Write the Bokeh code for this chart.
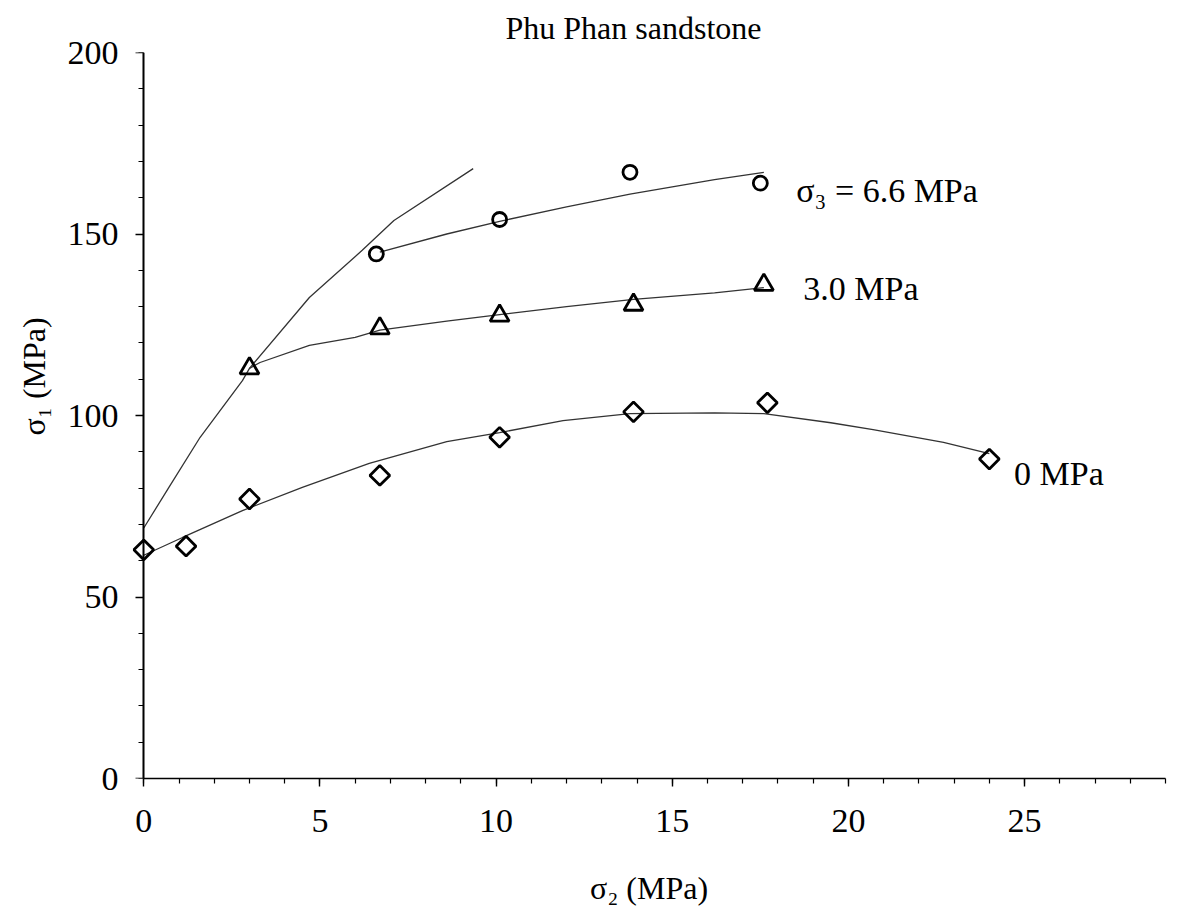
import math
from bokeh.plotting import figure
from bokeh.models import Range1d, FixedTicker, Label, Title, LinearAxis
from bokeh.embed import file_html
from bokeh.resources import INLINE

title_text = "Phu Phan sandstone"
x_label = "σ₂ (MPa)"
y_label = "σ₁ (MPa)"
label_66 = "σ₃ = 6.6 MPa"
label_30 = "3.0 MPa"
label_00 = "0 MPa"

x_major = [0, 5, 10, 15, 20, 25]
x_minor = list(range(0, 30))
y_major = [0, 50, 100, 150, 200]
y_minor = list(range(0, 201, 10))

# test points
s3_00_x = [0.0, 1.2, 3.0, 6.7, 10.1, 13.9, 17.7, 24.0]
s3_00_y = [63, 64, 77, 83.5, 94, 101, 103.5, 88]
s3_30_x = [3.0, 6.7, 10.1, 13.9, 17.6]
s3_30_y = [113, 124, 127.5, 130.5, 136]
s3_66_x = [6.6, 10.1, 13.8, 17.5]
s3_66_y = [144.5, 154, 167, 164]

# fitted curves
fit_00_x = [0.0, 1.1, 2.8, 4.5, 6.4, 8.6, 10.1, 11.9, 13.8, 16.2, 17.6, 19.5, 20.7, 22.7, 24.0]
fit_00_y = [61.5, 66.4, 73.8, 80.2, 86.8, 92.8, 95.3, 98.6, 100.5, 100.7, 100.5, 98.0, 96.1, 92.6, 89.5]
fit_30_x = [3.0, 3.3, 4.7, 6.0, 6.7, 8.6, 10.1, 12.0, 13.9, 16.2, 17.6]
fit_30_y = [113, 114.6, 119.3, 121.5, 123.5, 126, 127.8, 130, 132, 133.8, 135.2]
fit_66_x = [6.7, 8.6, 10.1, 12.0, 13.8, 16.2, 17.6]
fit_66_y = [145, 150, 153.5, 157.5, 161, 165, 167]
env_x = [0.0, 0.7, 1.6, 2.8, 3.0, 4.7, 6.2, 7.1, 9.35]
env_y = [69, 80, 94, 109.6, 113, 132.5, 145.5, 153.7, 168]

FONT = "Liberation Serif"

p = figure(width=1178, height=912, output_backend="svg", toolbar_location=None,
           x_range=Range1d(-0.32, 29), y_range=Range1d(0, 200),
           min_border_left=132, min_border_right=13, min_border_top=52, min_border_bottom=134)
p.outline_line_color = None
p.xgrid.visible = False
p.ygrid.visible = False
p.background_fill_color = "white"
p.border_fill_color = "white"

p.title.text = title_text
p.title.align = "left"
p.title.offset = 373
p.title.text_font = FONT
p.title.text_font_size = "32px"
p.title.text_font_style = "normal"
p.title.text_color = "black"
p.title.standoff = 14

def style_axis(ax, maj, mnr):
    ax.ticker = FixedTicker(ticks=maj, minor_ticks=mnr)
    ax.axis_line_color = "black"
    ax.axis_line_width = 1.6
    ax.major_tick_line_color = "black"
    ax.minor_tick_line_color = "black"
    ax.major_tick_line_width = 1.4
    ax.minor_tick_line_width = 1.2
    ax.major_tick_in = 0
    ax.minor_tick_in = 0
    ax.major_tick_out = 8
    ax.minor_tick_out = 5
    ax.major_label_text_font = FONT
    ax.major_label_text_font_size = "34px"
    ax.major_label_text_color = "black"

style_axis(p.xaxis[0], x_major, x_minor)
p.xaxis.major_label_standoff = 23
p.xaxis.bounds = (0, 29)
p.xaxis.axis_label = x_label
p.xaxis.axis_label_text_font = FONT
p.xaxis.axis_label_text_font_size = "32px"
p.xaxis.axis_label_text_font_style = "normal"
p.xaxis.axis_label_text_color = "black"
p.xaxis.axis_label_standoff = 35

# labelled y axis at the frame edge (labels only)
ylab_axis = p.yaxis[0]
style_axis(ylab_axis, y_major, y_minor)
ylab_axis.axis_line_color = None
ylab_axis.major_tick_line_color = None
ylab_axis.minor_tick_line_color = None
ylab_axis.major_label_standoff = 6

# y axis line and ticks drawn at sigma2 = 0 (no labels: all ticks as minor ticks)
yline_minor = LinearAxis(fixed_location=0)
style_axis(yline_minor, [], y_minor)
yline_minor.major_label_standoff = 0
p.add_layout(yline_minor, "left")

yline_major = LinearAxis(fixed_location=0)
style_axis(yline_major, [], y_major)
yline_major.minor_tick_out = 8
yline_major.minor_tick_line_width = 1.4
yline_major.major_label_standoff = 0
p.add_layout(yline_major, "left")

p.add_layout(Title(text=y_label, align="left", offset=343, text_font=FONT,
                   text_font_size="32px", text_font_style="normal",
                   text_color="black", standoff=26), "left")

line_kw = dict(line_color="#333333", line_width=1.3)
p.line(env_x, env_y, **line_kw)
p.line(fit_00_x, fit_00_y, **line_kw)
p.line(fit_30_x, fit_30_y, **line_kw)
p.line(fit_66_x, fit_66_y, **line_kw)

p.scatter(s3_00_x, s3_00_y, marker="square", size=14, angle=math.pi / 4,
          fill_color="white", fill_alpha=0, line_color="black", line_width=2.8)
p.scatter(s3_30_x, s3_30_y, marker="triangle", size=19,
          fill_color="white", fill_alpha=0, line_color="black", line_width=2.8)
p.scatter(s3_66_x, s3_66_y, marker="circle", size=14,
          fill_color="white", fill_alpha=0, line_color="black", line_width=2.8)

def lab(x, y, t, size="34px"):
    p.add_layout(Label(x=x, y=y, text=t, text_font=FONT, text_font_size=size,
                       text_color="black", text_align="left", text_baseline="alphabetic"))

lab(18.52, 162.0, label_66)
lab(18.72, 135.0, label_30)
lab(24.7, 84.0, label_00)

open("out.html", "w").write(file_html(p, INLINE))
